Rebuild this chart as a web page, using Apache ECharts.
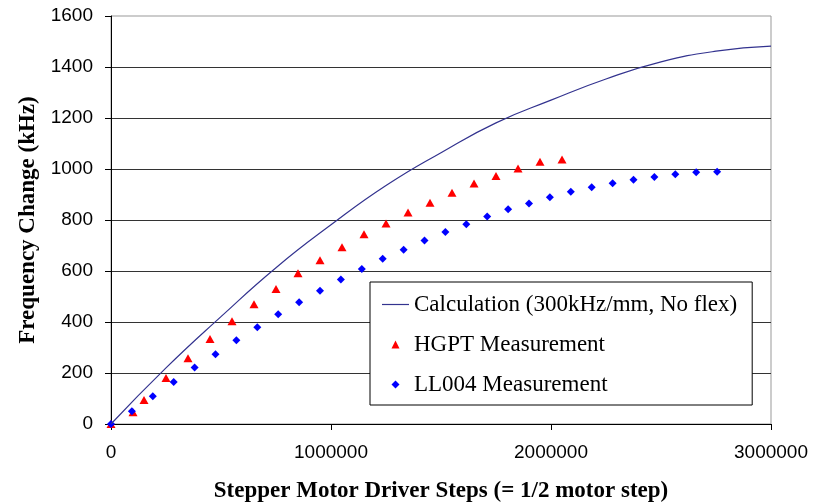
<!DOCTYPE html>
<html>
<head>
<meta charset="utf-8">
<script src="https://cdn.jsdelivr.net/npm/echarts@6/dist/echarts.min.js"></script>
<style>
  html, body { margin: 0; padding: 0; background: #fff; }
  #chart { width: 813px; height: 502px; }
</style>
</head>
<body>
<div id="chart"></div>
<script>
// calculated curve (steps, kHz)
const calcSteps = [0, 250000, 500000, 750000, 1000000, 1250000, 1500000, 1750000, 2000000, 2250000, 2500000, 2750000, 3000000];
const calcFreq  = [0, 220, 421, 613, 781, 935, 1064, 1181, 1270, 1353, 1420, 1462, 1482];

// HGPT measurement (red triangles)
const hgptSteps = [0, 100000, 150000, 250000, 350000, 450000, 550000, 650000, 750000, 850000, 950000,
  1050000, 1150000, 1250000, 1350000, 1450000, 1550000, 1650000, 1750000, 1850000, 1950000, 2050000];
const hgptFreq  = [0, 46, 94, 180, 258, 333, 403, 470, 529, 591, 642,
  693, 744, 786, 829, 868, 907, 943, 973, 1002, 1028, 1037];

// LL004 measurement (blue diamonds)
const llSteps = [0, 95000, 190000, 285000, 380000, 475000, 570000, 665000, 760000, 855000, 950000,
  1045000, 1140000, 1235000, 1330000, 1425000, 1520000, 1615000, 1710000, 1805000, 1900000,
  1995000, 2090000, 2185000, 2280000, 2375000, 2470000, 2565000, 2660000, 2755000];
const llFreq  = [0, 50, 109, 165, 222, 274, 328, 379, 430, 477, 523,
  567, 608, 648, 683, 720, 753, 783, 814, 842, 865,
  889, 911, 928, 944, 958, 969, 979, 987, 989];

const zip = (xs, ys) => xs.map((x, i) => [x, ys[i]]);

const serif = "'Liberation Serif', 'Times New Roman', serif";
const sans = "'Liberation Sans', Arial, sans-serif";
const plain = v => String(v);

const chart = echarts.init(document.getElementById('chart'), null, { renderer: 'canvas' });

chart.setOption({
  animation: false,
  backgroundColor: '#fff',
  grid: {
    left: 111, right: 42, top: 16, bottom: 78,
    outerBoundsMode: 'none',
    containLabel: false,
    show: true,
    borderColor: '#999',
    borderWidth: 1,
    backgroundColor: '#fff',
  },
  legend: {
    left: 370,
    top: 282,
    orient: 'vertical',
    padding: [11, 15, 9, 12],
    itemGap: 17,
    itemWidth: 27,
    itemHeight: 8,
    backgroundColor: '#fff',
    borderColor: '#000',
    borderWidth: 1,
    borderRadius: 0,
    textStyle: { fontFamily: serif, fontSize: 23, color: '#000' },
    data: [
      { name: 'Calculation (300kHz/mm, No flex)', icon: 'path://M0,0L27,0L27,1.2L0,1.2Z' },
      { name: 'HGPT Measurement', icon: 'path://M0,-1L1,1L-1,1Z' },
      { name: 'LL004 Measurement', icon: 'path://M0,-1L1,0L0,1L-1,0Z' },
    ],
  },
  xAxis: {
    type: 'value',
    min: 0,
    max: 3000000,
    interval: 1000000,
    name: 'Stepper Motor Driver Steps (= 1/2 motor step)',
    nameLocation: 'middle',
    nameGap: 56,
    nameTextStyle: { fontFamily: serif, fontSize: 23, fontWeight: 'bold', color: '#000' },
    axisLine: { show: true, lineStyle: { color: '#000', width: 1 } },
    axisTick: { show: true, length: 6, lineStyle: { color: '#000' } },
    axisLabel: { fontFamily: sans, fontSize: 19, color: '#000', margin: 19, formatter: plain },
    splitLine: { show: false },
  },
  yAxis: {
    type: 'value',
    min: 0,
    max: 1600,
    interval: 200,
    name: 'Frequency Change (kHz)',
    nameLocation: 'middle',
    nameGap: 50,
    nameTextStyle: { fontFamily: serif, fontSize: 23, fontWeight: 'bold', color: '#000' },
    axisLine: { show: true, lineStyle: { color: '#000', width: 1 } },
    axisTick: { show: true, length: 6, lineStyle: { color: '#000' } },
    axisLabel: { fontFamily: sans, fontSize: 19, color: '#000', margin: 18, formatter: plain },
    splitLine: { show: true, showMinLine: false, showMaxLine: false, lineStyle: { color: '#333', width: 1 } },
  },
  series: [
    {
      name: 'Calculation (300kHz/mm, No flex)',
      type: 'line',
      data: zip(calcSteps, calcFreq),
      smooth: 0.5,
      showSymbol: false,
      symbol: 'none',
      lineStyle: { color: '#33338f', width: 1.2 },
      itemStyle: { color: '#33338f' },
      z: 3,
    },
    {
      name: 'HGPT Measurement',
      type: 'scatter',
      data: zip(hgptSteps, hgptFreq),
      symbol: 'triangle',
      symbolSize: [9, 8],
      itemStyle: { color: '#ff0000', opacity: 1 },
      z: 2,
    },
    {
      name: 'LL004 Measurement',
      type: 'scatter',
      data: zip(llSteps, llFreq),
      symbol: 'diamond',
      symbolSize: [8, 8],
      itemStyle: { color: '#0000ff', opacity: 1 },
      z: 2,
    },
  ],
});
</script>
</body>
</html>
